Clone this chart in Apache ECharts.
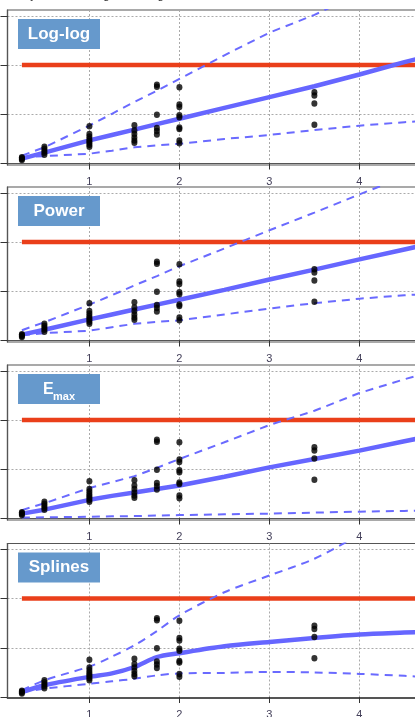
<!DOCTYPE html>
<html><head><meta charset="utf-8">
<script src="https://cdn.jsdelivr.net/npm/echarts@6/dist/echarts.min.js"></script>
<style>html,body{margin:0;padding:0;background:#fff;overflow:hidden}#c{width:415px;height:717px}</style>
</head><body><div id="c"></div><script>
// ---- data ----
const xTicks = [1, 2, 3, 4];
const yTicks = [0, 1, 2, 3];
const threshold = 2;
const panelNames = ['Log-log', 'Power', 'Emax', 'Splines'];
const obsDose = [0.25,0.25,0.25,0.25, 0.5,0.5,0.5,0.5,0.5, 1,1,1,1,1,1,1,1, 1.5,1.5,1.5,1.5,1.5,1.5, 1.75,1.75,1.75,1.75,1.75,1.75, 2,2,2,2,2,2,2,2,2, 3.5,3.5,3.5,3.5];
const obsResp = [0.07,0.09,0.11,0.13, 0.18,0.22,0.26,0.30,0.34, 0.34,0.38,0.42,0.46,0.50,0.55,0.60,0.76, 0.42,0.47,0.53,0.60,0.67,0.78, 0.59,0.66,0.72,0.99,1.56,1.60, 0.41,0.47,0.70,0.73,0.94,0.98,1.15,1.20,1.55, 0.79,1.22,1.38,1.45];
const fitX = [0.25, 0.5, 1, 1.25, 1.5, 1.75, 2, 2.5, 3, 3.5, 4, 4.5, 4.8];
const loglogFit   = [0.10,0.22,0.47,0.58,0.69,0.80,0.91,1.13,1.35,1.57,1.81,2.06,2.20];
const loglogUpper = [0.16,0.33,0.77,1.01,1.25,1.48,1.72,2.20,2.66,3.02,3.45,3.85,4.10];
const loglogLower = [0.13,0.15,0.20,0.26,0.33,0.37,0.40,0.50,0.58,0.68,0.77,0.84,0.87];
const powerFit    = [0.12,0.22,0.43,0.53,0.63,0.73,0.83,1.03,1.24,1.44,1.65,1.85,1.97];
const powerUpper  = [0.21,0.37,0.73,0.92,1.12,1.31,1.51,1.87,2.24,2.60,2.97,3.33,3.55];
const powerLower  = [0.11,0.15,0.20,0.27,0.34,0.38,0.41,0.53,0.65,0.76,0.85,0.92,0.95];
const emaxFit     = [0.10,0.18,0.38,0.46,0.53,0.60,0.67,0.85,1.04,1.21,1.38,1.57,1.68];
const emaxUpper   = [0.17,0.31,0.62,0.74,0.86,1.03,1.21,1.55,1.90,2.19,2.55,2.83,2.98];
const emaxLower   = [0.02,0.025,0.035,0.045,0.05,0.06,0.07,0.085,0.10,0.12,0.14,0.155,0.165];
const splineFit   = [0.10,0.24,0.41,0.48,0.61,0.81,0.89,1.03,1.12,1.20,1.27,1.31,1.33];
const splineUpper = [0.14,0.34,0.62,0.82,1.05,1.34,1.66,2.13,2.47,2.81,3.28,3.60,3.80];
const splineLower = [0.10,0.17,0.27,0.32,0.37,0.44,0.48,0.49,0.51,0.50,0.47,0.43,0.40];
const fits = [
  [loglogFit, loglogUpper, loglogLower],
  [powerFit, powerUpper, powerLower],
  [emaxFit, emaxUpper, emaxLower],
  [splineFit, splineUpper, splineLower]
];

// ---- layout ----
const tops = [10, 187, 365, 543.5];
const H = 155, L = 7.5, XMIN = 0.09, XMAX = 4.8, W = (XMAX - XMIN) * 90;
const zip = (xs, ys) => xs.map((x, i) => [x, ys[i]]);
const obs = zip(obsDose, obsResp);

const grid = [], xAxis = [], yAxis = [], series = [], graphic = [];
tops.forEach((t, i) => {
  grid.push({left: L, top: t, width: W, height: H, show: true, borderColor: '#555', borderWidth: 1.2, backgroundColor: '#fff', containLabel: false, outerBoundsMode: 'none'});
  xAxis.push({type: 'value', gridIndex: i, min: XMIN, max: XMAX,
    axisLine: {show: true, lineStyle: {color: '#555', width: 1.2}},
    axisTick: {show: true, length: 6, customValues: xTicks, lineStyle: {color: '#333'}},
    axisLabel: {show: true, customValues: xTicks, margin: 11, fontSize: 11, color: '#44405a', fontFamily: 'Liberation Sans'},
    splitLine: {show: true, lineStyle: {color: '#aaa', type: [2, 2], width: 1}}});
  yAxis.push({type: 'value', gridIndex: i, min: -0.03, max: 3.12,
    axisLine: {show: true, lineStyle: {color: '#555', width: 1.2}},
    axisTick: {show: true, length: 7, customValues: yTicks, lineStyle: {color: '#333'}},
    axisLabel: {show: false, customValues: yTicks},
    splitLine: {show: true, lineStyle: {color: '#aaa', type: [2, 2], width: 1}}});
  const [fit, up, lo] = fits[i];
  const sm = i === 3 ? 0.3 : false;
  series.push({type: 'line', xAxisIndex: i, yAxisIndex: i, data: [[0.25, threshold], [XMAX, threshold]], symbol: 'none', silent: true,
    lineStyle: {color: '#ea3f1a', width: 4.5}, z: 2});
  series.push({type: 'line', xAxisIndex: i, yAxisIndex: i, data: zip(fitX, up), symbol: 'none', smooth: sm,
    lineStyle: {color: '#6a6aff', width: 2, type: [8, 6]}, z: 3});
  series.push({type: 'line', xAxisIndex: i, yAxisIndex: i, data: zip(fitX, lo), symbol: 'none', smooth: sm,
    lineStyle: {color: '#6a6aff', width: 2, type: [8, 6]}, z: 3});
  series.push({type: 'line', xAxisIndex: i, yAxisIndex: i, data: zip(fitX, fit), symbol: 'none', smooth: sm,
    lineStyle: {color: '#6666ff', width: 4.5}, z: 4});
  series.push({type: 'scatter', xAxisIndex: i, yAxisIndex: i, data: obs, symbol: 'circle', symbolSize: [6, 6.5],
    itemStyle: {color: '#000'}, z: 5});
  graphic.push({type: 'rect', left: 18, top: t + 9, shape: {width: 82, height: 30}, style: {fill: '#6699cc'}, z: 100});
  if (panelNames[i] === 'Emax') {
    graphic.push({type: 'text', left: 43, top: t + 17, style: {text: 'E', fill: '#fff', font: 'bold 16px "Liberation Sans", Arial'}, z: 101});
    graphic.push({type: 'text', left: 53, top: t + 26, style: {text: 'max', fill: '#fff', font: 'bold 11px "Liberation Sans", Arial'}, z: 101});
  } else {
    graphic.push({type: 'text', x: 59, y: t + 24, style: {text: panelNames[i], fill: '#fff', font: 'bold 17px "Liberation Sans", Arial', align: 'center', verticalAlign: 'middle'}, z: 101});
  }
});
graphic.push({type: 'text', x: -4, y: 2, style: {text: 'Efficacy vs. increasing dose range', fill: '#333', font: '11.5px "Liberation Sans", Arial', verticalAlign: 'bottom'}, z: 101});

const chart = echarts.init(document.getElementById('c'), null, {renderer: 'canvas'});
chart.setOption({animation: false, backgroundColor: '#fff', grid, xAxis, yAxis, series, graphic});
</script></body></html>
